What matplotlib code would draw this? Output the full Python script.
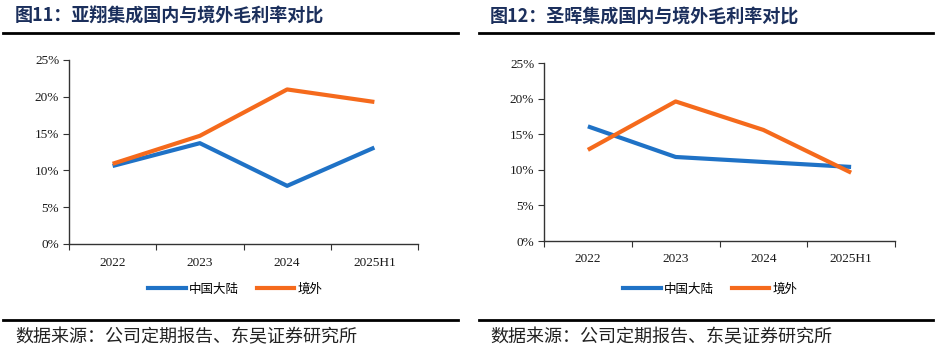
import matplotlib
matplotlib.use("Agg")
import matplotlib.pyplot as plt
from matplotlib.lines import Line2D
from matplotlib.ticker import FuncFormatter

# data
years = ["2022", "2023", "2024", "2025H1"]
left_title = "图11：亚翔集成国内与境外毛利率对比"
right_title = "图12：圣晖集成国内与境外毛利率对比"
left_mainland = [10.6, 13.7, 7.9, 13.1]
left_overseas = [10.9, 14.7, 21.0, 19.3]
right_mainland = [16.1, 11.8, 11.1, 10.4]
right_overseas = [12.8, 19.6, 15.6, 9.6]
series_names = ["中国大陆", "境外"]
source_text = "数据来源：公司定期报告、东吴证券研究所"

W, H = 946, 350
BLUE = "#1f72c6"
ORANGE = "#f56a1c"
NAVY = "#1b2f5c"
CJK = ["Noto Sans CJK SC", "DejaVu Sans"]
SERIF = "Liberation Serif"

fig = plt.figure(figsize=(W / 100, H / 100), dpi=100)


def px_axes(x0, y0, x1, y1):
    # pixel box (top-left origin) -> figure fraction axes
    return fig.add_axes([x0 / W, 1 - y1 / H, (x1 - x0) / W, (y1 - y0) / H])


def panel(box, mainland, overseas, title, title_x, rule, legend_x):
    ax = px_axes(*box)
    xs = range(len(years))
    ax.plot(xs, mainland, color=BLUE, lw=3, solid_capstyle="butt")
    ax.plot(xs, overseas, color=ORANGE, lw=3, solid_capstyle="butt")
    ax.set_xlim(-0.5, len(years) - 0.5)
    ax.set_ylim(0, 25)
    ax.set_yticks([0, 5, 10, 15, 20, 25])
    ax.yaxis.set_major_formatter(FuncFormatter(lambda v, p: f"{v:.0f}%"))
    ax.set_xticks([i - 0.5 for i in range(len(years) + 1)])
    ax.set_xticklabels([])
    ax.set_xticks(list(xs), minor=True)
    ax.set_xticklabels(years, minor=True, fontfamily=SERIF, fontsize=9.5, color="#1a1a1a")
    ax.tick_params(axis="x", which="minor", length=0, pad=9)
    ax.tick_params(axis="x", which="major", length=4, direction="out", color="#333333")
    ax.tick_params(axis="y", length=4, direction="out", color="#333333", pad=3)
    for lab in ax.get_yticklabels():
        lab.set_fontfamily(SERIF)
        lab.set_fontsize(9.5)
        lab.set_color("#1a1a1a")
    for s in ["top", "right"]:
        ax.spines[s].set_visible(False)
    for s in ["left", "bottom"]:
        ax.spines[s].set_color("#333333")
        ax.spines[s].set_linewidth(1.0)

    handles = [Line2D([], [], color=BLUE, lw=3), Line2D([], [], color=ORANGE, lw=3)]
    fig.legend(handles, series_names, loc="center left",
               bbox_to_anchor=(legend_x / W, 1 - 289 / H), ncol=2, frameon=False,
               prop={"family": CJK, "size": 9}, handlelength=3.0, handletextpad=0.3,
               columnspacing=1.4, borderpad=0, borderaxespad=0)

    fig.text(title_x / W, 1 - 16 / H, title, fontfamily=CJK, fontsize=13,
             fontweight="bold", color=NAVY, va="center", ha="left")
    fig.add_artist(Line2D([rule[0] / W, rule[1] / W], [1 - 33 / H, 1 - 33 / H],
                          color="black", lw=2))
    fig.add_artist(Line2D([rule[0] / W, rule[1] / W], [1 - 320 / H, 1 - 320 / H],
                          color="black", lw=2))
    fig.text(title_x / W, 1 - 337 / H, source_text, fontfamily=CJK, fontsize=13,
             color="#222222", va="center", ha="left")


panel((69, 60, 418, 244), left_mainland, left_overseas, left_title, 15, (3, 458), 148)
panel((544, 63, 895, 241), right_mainland, right_overseas, right_title, 490, (479, 933), 623)

fig.savefig("out.png", dpi=100)
